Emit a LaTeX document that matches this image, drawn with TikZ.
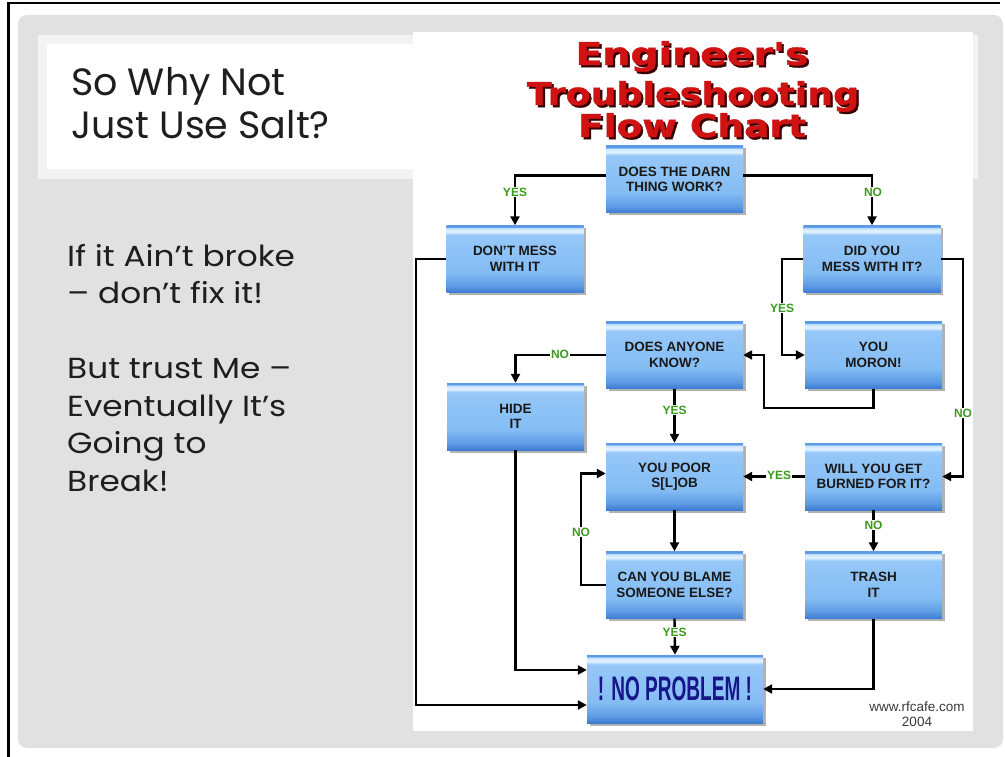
\documentclass[tikz,border=0pt]{standalone}
\usepackage{fontspec}
\setmainfont{Liberation Sans}
\newfontfamily\slidefont{Poppins}
\newfontfamily\titlefont[FakeBold=1.2]{DejaVu Sans Bold}
\usetikzlibrary{arrows.meta,shadows}
\definecolor{slidegray}{HTML}{E1E1E1}
\definecolor{bandgray}{HTML}{F3F3F3}
\definecolor{slidetext}{HTML}{1E1E1E}
\definecolor{titlered}{HTML}{D01212}
\definecolor{titleshadow}{HTML}{3A0000}
\definecolor{lblgreen}{HTML}{3C9A1E}
\definecolor{npblue}{HTML}{161688}
\definecolor{credit}{HTML}{3A3A3A}
\definecolor{bxedge}{HTML}{5B9BE6}
\definecolor{bxhigh}{HTML}{E6F3FF}
\definecolor{bxhighb}{HTML}{C8E4FF}
\definecolor{bxmainb}{HTML}{96C8F8}
\definecolor{bxmain}{HTML}{84BCF3}
\definecolor{bxmid}{HTML}{5D9BE4}
\definecolor{bxdark}{HTML}{3C7BD2}
\pgfdeclareverticalshading{boxshade}{100bp}{color(0bp)=(bxdark); color(25bp)=(bxdark); color(30bp)=(bxmid); color(40bp)=(bxmain); color(68bp)=(bxmainb); color(70.5bp)=(bxhigh); color(73bp)=(bxhighb); color(74bp)=(bxedge); color(100bp)=(bxedge)}
% red title text with its dark shadow, in one box
\newcommand{\redtitle}[2]{\rlap{\kern2.2pt\raisebox{-2.2pt}{\textcolor{titleshadow}{\scalebox{#1}[1]{#2}}}}\textcolor{titlered}{\scalebox{#1}[1]{#2}}}
\tikzset{
  box/.style={shading=boxshade, minimum width=137pt, minimum height=67pt, inner sep=0pt,
    align=center, font=\fontsize{13.5}{15.5}\selectfont\bfseries, text=black!90,
    drop shadow={shadow xshift=2.5pt, shadow yshift=-2.5pt, opacity=0.3, fill=black}},
  conn/.style={line width=2.4pt, black},
  arr/.style={conn, -{Triangle[length=9pt,width=9pt]}},
  lbl/.style={font=\fontsize{12}{12}\selectfont\bfseries, text=lblgreen, fill=white, inner sep=1.2pt},
  slide/.style={anchor=base west, font=\slidefont\fontsize{29}{37}\selectfont, text=slidetext, inner sep=0pt},
  slidetitle/.style={anchor=base west, font=\slidefont\fontsize{38}{43}\selectfont, text=slidetext, inner sep=0pt},
  ctitle/.style={anchor=base, font=\titlefont\fontsize{31.5}{31.5}\selectfont, inner sep=0pt},
}
\begin{document}
\begin{tikzpicture}[x=1pt,y=-1pt]
\useasboundingbox (0,0) rectangle (1005,757);
\fill[white] (0,0) rectangle (1005,757);
\fill[slidegray, rounded corners=9pt] (18,15) rectangle (1003,748);
\draw[black, line width=2.6pt] (8.5,757) -- (8.5,3) -- (1000,3);
% title band
\fill[bandgray] (38,35) rectangle (978,179);
\fill[white] (47,44) rectangle (972,169);
% chart sheet
\fill[white] (413,32) rectangle (973,731);
% slide texts
\node[slidetitle] (t1) at (71,96) {So Why Not};
\node[slidetitle] (t2) at (71,139) {Just Use Salt?};
\node[slide] (b1) at (67,266) {\scalebox{1.13}[1]{If it Ain’t broke}};
\node[slide] (b2) at (67,303.5) {\scalebox{1.13}[1]{– don’t fix it!}};
\node[slide] (b3) at (67,378.5) {\scalebox{1.13}[1]{But trust Me –}};
\node[slide] (b4) at (67,416) {\scalebox{1.13}[1]{Eventually It’s}};
\node[slide] (b5) at (67,453.5) {\scalebox{1.13}[1]{Going to}};
\node[slide] (b6) at (67,491) {\scalebox{1.13}[1]{Break!}};
% chart title
\node[ctitle] (h1) at (692,65) {\redtitle{1.25}{Engineer's}};
\node[ctitle] (h2) at (693,105) {\redtitle{1.155}{Troubleshooting}};
\node[ctitle] (h3) at (692,137) {\redtitle{1.19}{Flow Chart}};
% boxes
\node[box] (darn) at (674.5,179.5) {DOES THE DARN\\THING WORK?};
\node[box] (dontmess) at (515,259) {DON'T MESS\\WITH IT};
\node[box] (didyou) at (872,259) {DID YOU\\MESS WITH IT?};
\node[box] (anyone) at (674.5,355) {DOES ANYONE\\KNOW?};
\node[box] (moron) at (873.5,355) {YOU\\MORON!};
\node[box] (hide) at (515.5,416.5) {HIDE\\IT};
\node[box] (poor) at (674.5,476.5) {YOU POOR\\S[L]OB};
\node[box] (burned) at (873.5,476.5) {WILL YOU GET\\BURNED FOR IT?};
\node[box] (blame) at (674.5,585) {CAN YOU BLAME\\SOMEONE ELSE?};
\node[box] (trash) at (873.5,585) {TRASH\\IT};
\node[box, minimum width=176pt, minimum height=68pt] (noproblem) at (675,689)
  {\textcolor{npblue}{\fontsize{34}{34}\selectfont\scalebox{0.56}[1]{! NO PROBLEM !}}};
\node[align=center, font=\fontsize{13.5}{15}\selectfont, text=credit] (credit) at (917,714.5) {www.rfcafe.com\\2004};
% rails
\coordinate (lrail) at (416,0);
\coordinate (yrail) at (782,0);
\coordinate (rrail) at (963,0);
\coordinate (brail) at (581,0);
\coordinate (mcorner) at (764,408);
% connectors
\draw[arr] ([yshift=4pt]darn.west) -| (dontmess.north);
\draw[arr] ([yshift=4pt]darn.east) -| (didyou.north);
\draw[arr] (dontmess.west) -- (lrail |- dontmess.west) |- ([yshift=-16pt]noproblem.west);
\draw[arr] (didyou.west) -- (yrail |- didyou.west) |- (moron.west);
\draw[arr] (didyou.east) -- (rrail |- didyou.east) |- (burned.east);
\draw[arr] (anyone.west) -| (hide.north);
\draw[arr] (moron.south) |- (mcorner) |- (anyone.east);
\draw[arr] (anyone.south) -- (poor.north);
\draw[arr] (burned.west) -- (poor.east);
\draw[arr] (poor.south) -- (blame.north);
\draw[arr] (blame.west) -- (brail |- blame.west) |- ([yshift=3pt]poor.west);
\draw[arr] (blame.south) -- (noproblem.north);
\draw[arr] (burned.south) -- (trash.north);
\draw[arr] (trash.south) |- (noproblem.east);
\draw[arr] (hide.south) |- ([yshift=19pt]noproblem.west);
% labels
\node[lbl] (l1) at (515,192) {YES};
\node[lbl] (l2) at (873,192) {NO};
\node[lbl] (l3) at (782,308) {YES};
\node[lbl] (l4) at (560,354) {NO};
\node[lbl] (l5) at (674.5,410) {YES};
\node[lbl] (l6) at (963,413) {NO};
\node[lbl] (l7) at (779,475) {YES};
\node[lbl] (l8) at (581,532) {NO};
\node[lbl] (l9) at (873.5,525) {NO};
\node[lbl] (l10) at (674.5,632) {YES};
\end{tikzpicture}
\end{document}
